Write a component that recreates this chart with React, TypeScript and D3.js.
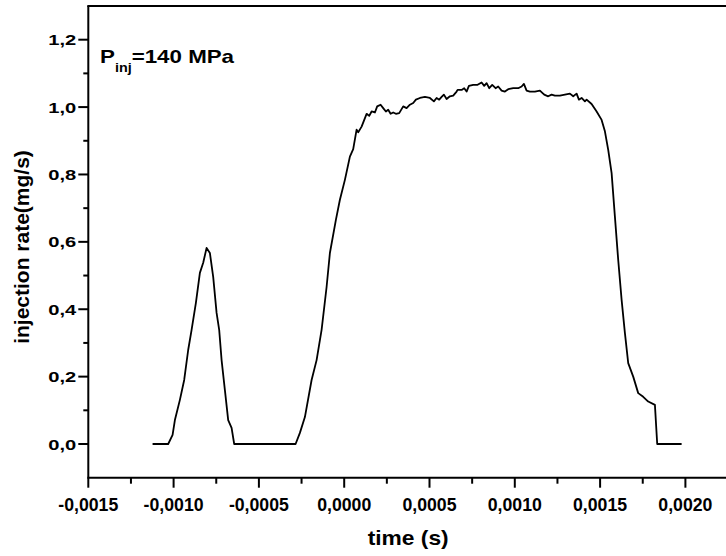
import React from "react";
import * as d3 from "d3";

// time (s)
const timeS = [
  -0.0011232, -0.0010317, -0.0010059, -0.0009924, -0.0009631, -0.0009379, -0.0009145, -0.0008945,
  -0.0008693, -0.0008459, -0.0008265, -0.0008066, -0.0007873, -0.0007679, -0.000748, -0.0007328,
  -0.0007187, -0.0006993, -0.00068, -0.0006601, -0.0006448, -0.0002849, -0.0002597, -0.0002304,
  -0.0001911, -0.0001618, -0.0001325, -0.0001032, -0.0000838, -0.0000487, -0.0000252, 0.0000041,
  0.0000334, 0.0000528, 0.0000727, 0.0000821, 0.000102, 0.0001313, 0.0001466, 0.0001606, 0.00018,
  0.0001934, 0.0002134, 0.0002286, 0.0002444, 0.0002579, 0.000272, 0.0002872, 0.0003031, 0.0003224,
  0.0003459, 0.0003658, 0.0003851, 0.0004045, 0.0004203, 0.0004438, 0.0004731, 0.0005024, 0.0005258,
  0.0005416, 0.0005569, 0.000571, 0.0005844, 0.0006003, 0.0006196, 0.000639, 0.0006589, 0.0006647,
  0.0006882, 0.0007034, 0.0007175, 0.000731, 0.0007562, 0.000782, 0.0008054, 0.0008207, 0.0008347,
  0.00085, 0.0008676, 0.0008875, 0.0009027, 0.0009227, 0.000942, 0.0009614, 0.0009907, 0.00102,
  0.0010399, 0.0010534, 0.0010692, 0.0010886, 0.0011179, 0.0011472, 0.0011724, 0.0011958, 0.0012158,
  0.0012351, 0.0012644, 0.0012937, 0.0013231, 0.0013424, 0.0013623, 0.0013758, 0.0013916, 0.001411,
  0.001421, 0.0014502, 0.0014796, 0.0015089, 0.0015282, 0.0015476, 0.0015675, 0.0015868, 0.0016062,
  0.0016261, 0.0016455, 0.0016648, 0.0016941, 0.0017234, 0.0017527, 0.001782, 0.0018213, 0.0018348,
  0.0019778,
];

// injection rate (mg/s)
const rate = [
  0, 0, 0.027, 0.071, 0.131, 0.19, 0.279, 0.339,
  0.419, 0.508, 0.538, 0.582, 0.567, 0.496, 0.389, 0.339,
  0.249, 0.16, 0.071, 0.048, 0, 0, 0.033, 0.08,
  0.19, 0.249, 0.339, 0.466, 0.567, 0.665, 0.725, 0.784,
  0.853, 0.875, 0.933, 0.925, 0.942, 0.98, 0.974, 0.987, 0.984,
  1.002, 1.007, 0.997, 0.987, 0.992, 0.98, 0.984, 0.98, 0.982,
  1.002, 0.997, 1.007, 1.012, 1.022, 1.027, 1.03, 1.027, 1.017,
  1.027, 1.022, 1.03, 1.037, 1.024, 1.032, 1.034, 1.046, 1.051,
  1.051, 1.056, 1.046, 1.063, 1.066, 1.066, 1.073, 1.063, 1.071,
  1.056, 1.066, 1.056, 1.061, 1.049, 1.046, 1.053, 1.056, 1.056,
  1.061, 1.069, 1.049, 1.046, 1.046, 1.049, 1.037, 1.032, 1.037,
  1.034, 1.034, 1.037, 1.04, 1.032, 1.04, 1.022, 1.027, 1.017,
  1.022, 1.009, 0.987, 0.962, 0.928, 0.873, 0.804, 0.675, 0.546,
  0.428, 0.329, 0.24, 0.2, 0.151, 0.14, 0.126, 0.116, 0,
  0,
];

const xTicks = [-0.0015, -0.001, -0.0005, 0, 0.0005, 0.001, 0.0015, 0.002];
const xMinorTicks = [-0.00125, -0.00075, -0.00025, 0.00025, 0.00075, 0.00125, 0.00175];
const yTicks = [0, 0.2, 0.4, 0.6, 0.8, 1.0, 1.2];
const yMinorTicks = [0.1, 0.3, 0.5, 0.7, 0.9, 1.1];

const xDomain = [-0.0015, 0.00225];
const yDomain = [-0.1, 1.3];

const FONT = "'Liberation Sans', Arial, sans-serif";

export default function App() {
  const x = d3.scaleLinear().domain(xDomain).range([88.3, 728.05]);
  const y = d3.scaleLinear().domain(yDomain).range([477.7, 6]);
  const pts = timeS.map((t, i) => [t, rate[i]] as [number, number]);
  const line = d3.line<[number, number]>().x((d) => x(d[0])).y((d) => y(d[1]));
  const fx = (v: number) => d3.format(".4f")(v).replace(".", ",").replace("−", "-");
  const fy = (v: number) => d3.format(".1f")(v).replace(".", ",");
  const x0 = x(xDomain[0]);
  const yb = y(yDomain[0]);
  const yt = y(yDomain[1]);
  return (
    <svg width={726} height={556} style={{ position: "absolute", left: 0, top: 0, background: "#fff" }}>
      <rect width={726} height={556} fill="#fff" />
      <path d={line(pts) || ""} fill="none" stroke="#000" strokeWidth={1.8} strokeLinejoin="round" />
      {/* frame */}
      <line x1={x0} x2={x0} y1={yt} y2={yb} stroke="#000" strokeWidth={2} />
      <line x1={x0 - 1} x2={x(xDomain[1])} y1={yb} y2={yb} stroke="#000" strokeWidth={2} />
      <line x1={x0 - 1} x2={x(xDomain[1])} y1={yt} y2={yt} stroke="#000" strokeWidth={2} />
      {/* y ticks */}
      {yTicks.map((v) => (
        <g key={"y" + v}>
          <line x1={x0 - 10} x2={x0} y1={y(v)} y2={y(v)} stroke="#000" strokeWidth={2} />
          <text
            transform={`translate(${x0 - 12},${y(v) + 5.5}) scale(1.3,1)`}
            textAnchor="end"
            fontFamily={FONT}
            fontWeight="bold"
            fontSize={15.5}
          >
            {fy(v)}
          </text>
        </g>
      ))}
      {yMinorTicks.map((v) => (
        <line key={"ym" + v} x1={x0 - 5} x2={x0} y1={y(v)} y2={y(v)} stroke="#000" strokeWidth={2} />
      ))}
      {/* x ticks */}
      {xTicks.map((v) => (
        <g key={"x" + v}>
          <line x1={x(v)} x2={x(v)} y1={yb} y2={yb + 10} stroke="#000" strokeWidth={2} />
          <text x={x(v)} y={510.5} textAnchor="middle" fontFamily={FONT} fontWeight="bold" fontSize={17.7}>
            {fx(v)}
          </text>
        </g>
      ))}
      {xMinorTicks.map((v) => (
        <line key={"xm" + v} x1={x(v)} x2={x(v)} y1={yb} y2={yb + 6} stroke="#000" strokeWidth={2} />
      ))}
      <text
        transform={`translate(${(x0 + x(xDomain[1])) / 2},545) scale(1.14,1)`}
        textAnchor="middle"
        fontFamily={FONT}
        fontWeight="bold"
        fontSize={20}
      >
        time (s)
      </text>
      <text
        transform={`translate(29,247) rotate(-90)`}
        textAnchor="middle"
        fontFamily={FONT}
        fontWeight="bold"
        fontSize={21}
      >
        injection rate(mg/s)
      </text>
      <text transform="translate(100,63) scale(1.2,1)" fontFamily={FONT} fontWeight="bold" fontSize={18.6}>
        P
        <tspan dy={9} fontSize={12}>inj</tspan>
        <tspan dy={-9}>=140 MPa</tspan>
      </text>
    </svg>
  );
}
